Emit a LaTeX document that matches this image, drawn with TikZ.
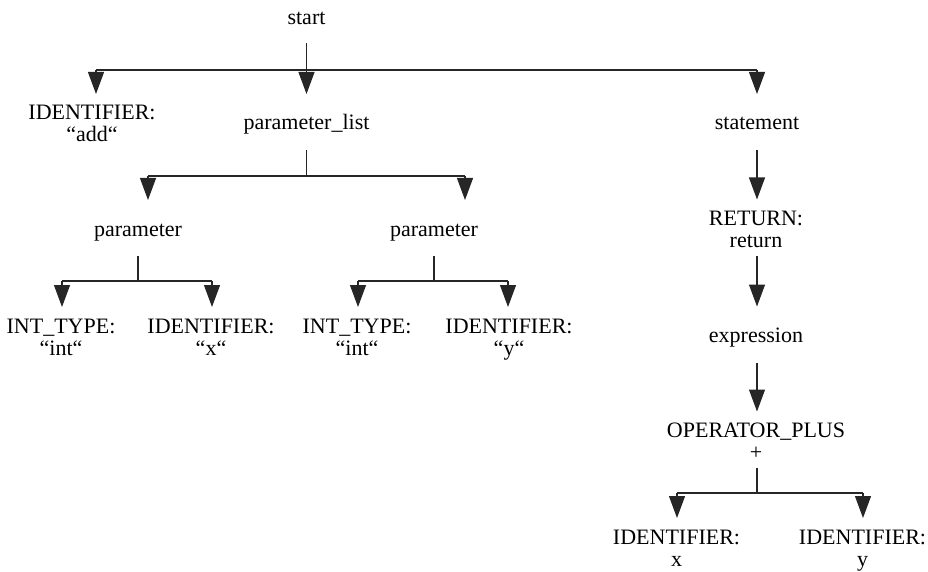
\documentclass[tikz,border=0pt]{standalone}
\usepackage{fontspec}
\setmainfont{Liberation Serif}
\usetikzlibrary{arrows.meta}
% two stacked lines, baseline on the last one
\newcommand{\twolbl}[2]{\begin{tabular}[b]{@{}c@{}}#1\\#2\end{tabular}}
\begin{document}
\begin{tikzpicture}[x=1pt,y=-1pt,
  every node/.style={font=\fontsize{22}{22}\selectfont, inner sep=0pt, outer sep=0pt, minimum height=56pt},
  one/.style={text height=18pt, text depth=2pt},
  two/.style={text height=42pt, text depth=2pt},
  wire/.style={draw=black!85, line width=1.1pt},
  arr/.style={wire, -{Triangle[length=22pt,width=16pt]}}]
\useasboundingbox (0,0) rectangle (928,572);

% ---- nodes of the parse tree ----
\node[one, minimum height=52pt] (start) at (306.5,17) {start};

\node[two] (idadd) at (92,122)    {\twolbl{IDENTIFIER:}{“add“}};
\node[one] (plist) at (306.5,122) {parameter\_list};
\node[one] (stmt)  at (757,122)   {statement};

\node[one] (par1) at (138,228) {parameter};
\node[one] (par2) at (434,228) {parameter};

\node[two] (int1) at (61,335)  {\twolbl{INT\_TYPE:}{“int“}};
\node[two] (idx1) at (211,335) {\twolbl{IDENTIFIER:}{“x“}};
\node[two] (int2) at (357,335) {\twolbl{INT\_TYPE:}{“int“}};
\node[two] (idy1) at (509,335) {\twolbl{IDENTIFIER:}{“y“}};

\node[two] (ret)  at (756,227.5) {\twolbl{RETURN:}{return}};
\node[one] (expr) at (756,334.5) {expression};
\node[two] (plus) at (756,439.5) {\twolbl{OPERATOR\_PLUS}{+}};

\node[two] (idx2) at (676.5,546) {\twolbl{IDENTIFIER:}{x}};
\node[two] (idy2) at (862.5,546) {\twolbl{IDENTIFIER:}{y}};

% ---- branching bars ----
\coordinate (b0L) at (96,70);   \coordinate (b0R) at (757,70);
\coordinate (b1L) at (148,176); \coordinate (b1R) at (465,176);
\coordinate (b2L) at (62,281);  \coordinate (b2R) at (212,281);
\coordinate (b3L) at (358,281); \coordinate (b3R) at (508,281);
\coordinate (b4L) at (677,493); \coordinate (b4R) at (863,493);

% start
\draw[wire] (b0L) -- (b0R);
\draw[arr] (start.south) -- (start.south |- plist.north);
\draw[arr] (b0L) -- (b0L |- idadd.north);
\draw[arr] (b0R) -- (b0R |- stmt.north);

% parameter_list
\draw[wire] (plist.south) -- (plist.south |- b1L);
\draw[wire] (b1L) -- (b1R);
\draw[arr] (b1L) -- (b1L |- par1.north);
\draw[arr] (b1R) -- (b1R |- par2.north);

% first parameter
\draw[wire] (par1.south) -- (par1.south |- b2L);
\draw[wire] (b2L) -- (b2R);
\draw[arr] (b2L) -- (b2L |- int1.north);
\draw[arr] (b2R) -- (b2R |- idx1.north);

% second parameter
\draw[wire] (par2.south) -- (par2.south |- b3L);
\draw[wire] (b3L) -- (b3R);
\draw[arr] (b3L) -- (b3L |- int2.north);
\draw[arr] (b3R) -- (b3R |- idy1.north);

% statement chain
\draw[arr] (stmt.south) -- (stmt.south |- ret.north);
\draw[arr] (ret.south -| stmt.south) -- (stmt.south |- expr.north);
\draw[arr] (expr.south -| stmt.south) -- (stmt.south |- plus.north);

% operator operands
\draw[wire] (plus.south -| stmt.south) -- (stmt.south |- b4L);
\draw[wire] (b4L) -- (b4R);
\draw[arr] (b4L) -- (b4L |- idx2.north);
\draw[arr] (b4R) -- (b4R |- idy2.north);
\end{tikzpicture}
\end{document}
